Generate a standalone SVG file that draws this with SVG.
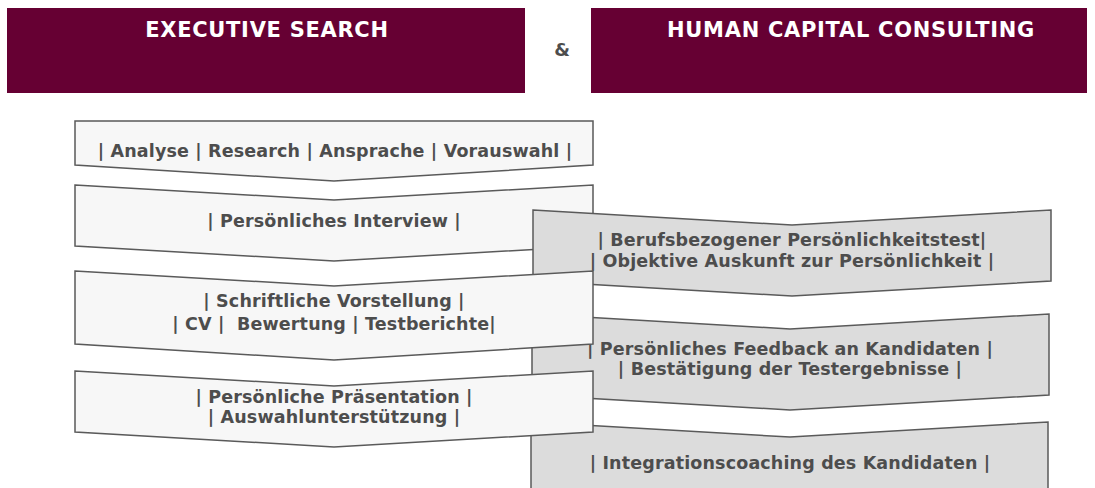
<svg xmlns="http://www.w3.org/2000/svg" width="1095" height="488" viewBox="0 0 1095 488">
<style>
.hdr{fill:#660033}
.ht{font-family:"DejaVu Sans",Verdana,sans-serif;font-weight:bold;font-size:21px;letter-spacing:0.7px;fill:#ffffff;text-anchor:middle}
.amp{font-family:"DejaVu Sans",Verdana,sans-serif;font-weight:bold;font-size:18px;fill:#4d4d4d;text-anchor:middle}
.lt{fill:#f7f7f7;stroke:#5a5a5a;stroke-width:1.5;stroke-linejoin:miter}
.gr{fill:#dcdcdc;stroke:#5a5a5a;stroke-width:1.5;stroke-linejoin:miter}
.t{font-family:"DejaVu Sans",Verdana,sans-serif;font-weight:bold;font-size:17.5px;letter-spacing:0.15px;fill:#4d4d4d;text-anchor:middle;white-space:pre}
</style>
<g id="header-executive-search">
<rect class="hdr" x="7" y="8" width="518" height="85"/>
<text class="ht" x="267" y="37">EXECUTIVE SEARCH</text>
</g>
<g id="ampersand">
<text class="amp" x="562" y="56">&amp;</text>
</g>
<g id="header-human-capital">
<rect class="hdr" x="591" y="8" width="496" height="85"/>
<text class="ht" x="851" y="37">HUMAN CAPITAL CONSULTING</text>
</g>
<g id="connectors"></g>
<g id="step-analyse">
<path class="lt" d="M75,121 L593,121 L593,165 L334,181 L75,165 Z"/>
<text class="t" x="335" y="157">| Analyse | Research | Ansprache | Vorauswahl |</text>
</g>
<g id="step-interview">
<path class="lt" d="M75,185 L334,200 L593,185 L593,246 L334,261 L75,246 Z"/>
<text class="t" x="334" y="227">| Persönliches Interview |</text>
</g>
<g id="step-persoenlichkeitstest">
<path class="gr" d="M533,210 L792,225 L1051,210 L1051,281 L792,296 L533,281 Z"/>
<text class="t" x="792" y="246">| Berufsbezogener Persönlichkeitstest|</text>
<text class="t" x="792" y="267">| Objektive Auskunft zur Persönlichkeit |</text>
</g>
<g id="step-feedback">
<path class="gr" d="M532,314 L790,329 L1049,314 L1049,395 L790,410 L532,395 Z"/>
<text class="t" x="790" y="355">| Persönliches Feedback an Kandidaten |</text>
<text class="t" x="790" y="375">| Bestätigung der Testergebnisse |</text>
</g>
<g id="step-integrationscoaching">
<path class="gr" d="M531,422 L790,437 L1048,422 L1048,500 L531,500 Z"/>
<text class="t" x="790" y="469">| Integrationscoaching des Kandidaten |</text>
</g>
<g id="step-vorstellung">
<path class="lt" d="M75,271 L334,286 L593,271 L593,344 L334,360 L75,344 Z"/>
<text class="t" x="334" y="307">| Schriftliche Vorstellung |</text>
<text class="t" x="334" y="330">| CV |  Bewertung | Testberichte|</text>
</g>
<g id="step-praesentation">
<path class="lt" d="M75,371 L334,386 L593,371 L593,432 L334,447 L75,432 Z"/>
<text class="t" x="334" y="403">| Persönliche Präsentation |</text>
<text class="t" x="334" y="423">| Auswahlunterstützung |</text>
</g>
</svg>
